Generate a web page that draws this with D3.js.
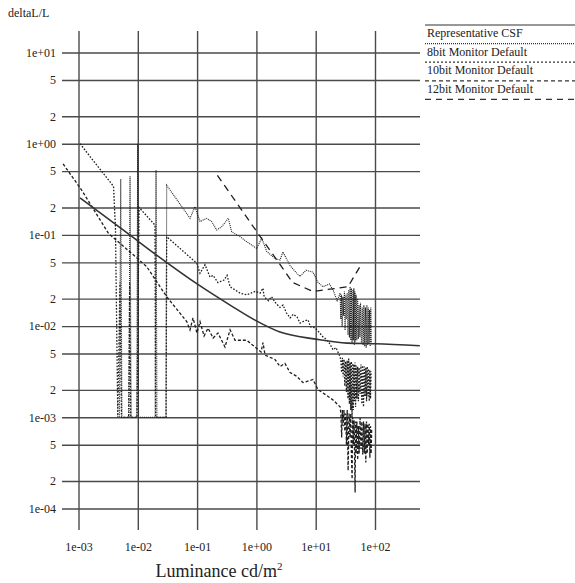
<!DOCTYPE html>
<html>
<head>
<style>
  body { margin: 0; background: #fff; }
  text { font-family: "Liberation Serif", "Times New Roman", serif; fill: #222; }
</style>
</head>
<body>
<script src="https://d3js.org/d3.v7.min.js"></script>
<script>
// luminance (cd/m2), deltaL/L
const csf = [[0.00106,0.254],[0.0066,0.105],[0.024,0.056],[0.1,0.029],[0.36,0.017],[1,0.0114],[2.5,0.0086],[10,0.0072],[34,0.0065],[100,0.0064],[570,0.0061]]

const bit8 = [[0.0049,0.001],[0.00515,0.41],[0.0054,0.001],[0.0071,0.001],[0.0074,0.44],[0.0077,0.001],[0.0096,0.001],[0.00995,1.0],[0.0103,0.001],
  [0.0196,0.001],[0.0203,0.51],[0.021,0.001],[0.0299,0.001],[0.0307,0.35],
  [0.076,0.152],[0.092,0.204],[0.112,0.14],[0.145,0.152],[0.176,0.14],[0.214,0.113],[0.26,0.123],[0.336,0.152],[0.383,0.108],[0.53,0.0955],
  [0.69,0.084],[1.01,0.071],[1.23,0.092],[1.49,0.066],[2.06,0.055],[2.5,0.053],[2.8,0.065],[3.7,0.046],[5.4,0.035],[6.9,0.041],[9.0,0.039],
  [11,0.03],[13.3,0.027],[17,0.029],[19.6,0.025],[23,0.019],
  [25.8,0.023],[26.5,0.012],[27.2,0.022],[27.9,0.0098],[28.8,0.021],[29.6,0.013],[30.5,0.024],[31.3,0.009],[32.2,0.022],[33,0.012],[34,0.023],
  [35,0.008],[36,0.025],[37,0.0075],[38,0.027],[39,0.007],[40,0.026],[41,0.0065],[42,0.025],[43,0.007],[44,0.026],[45,0.0062],[46,0.024],
  [47,0.0068],[48,0.022],[49.5,0.007],[51,0.02],[52.5,0.0072],[54,0.017],[55.5,0.0076],[57,0.018],[59,0.0065],[61,0.016],[63,0.0062],
  [65,0.017],[67,0.006],[69,0.016],[71,0.0058],[73,0.017],[75,0.0062],[77,0.016],[79,0.0065],[81,0.015],[83,0.006],[85,0.016],[87,0.0062]]

const bit10 = [[0.00106,1.0],[0.0039,0.34],[0.0042,0.12],[0.0046,0.001],[0.005,0.03],[0.0053,0.001],[0.007,0.001],[0.0073,0.03],[0.0076,0.001],
  [0.0097,0.001],[0.0105,0.2],[0.0195,0.128],[0.02,0.001],[0.03,0.001],[0.0307,0.0955],[0.0985,0.049],[0.112,0.038],[0.136,0.047],[0.165,0.0345],
  [0.186,0.036],[0.225,0.03],[0.284,0.032],[0.32,0.036],[0.36,0.027],[0.53,0.023],[0.69,0.022],[0.95,0.024],[1.15,0.023],[1.29,0.026],[1.35,0.021],
  [1.6,0.019],[1.8,0.021],[2.1,0.018],[2.5,0.016],[2.81,0.017],[3.2,0.014],[3.7,0.0123],[4.2,0.0135],[4.84,0.0126],[5.44,0.0108],[6.3,0.0113],
  [7.4,0.0117],[8.2,0.0098],[9.0,0.0098],[10,0.0094],[11.5,0.0085],[13.3,0.0076],[15,0.0072],[17,0.0065],[19.6,0.0055],[22,0.0058],[25.8,0.0046],
  [26.6,0.0041],[27.4,0.0031],[28.2,0.0045],[29,0.0028],[30,0.0043],[31,0.0022],[32,0.0041],[33,0.0019],[34,0.0042],[35,0.0016],[36,0.0044],
  [37,0.0014],[38,0.004],[39,0.0012],[40,0.0041],[41,0.00101],[42,0.0039],[43,0.0012],[44,0.0038],[45,0.0015],[46,0.004],[47,0.0013],
  [48,0.0037],[49.5,0.0016],[51,0.0036],[52.5,0.0015],[54,0.0035],[56,0.0018],[58,0.0038],[60,0.0014],[62,0.0037],[64,0.0013],[66,0.0036],
  [68,0.0017],[70,0.0035],[72,0.0015],[74,0.0036],[76,0.0017],[78,0.0034],[80,0.0015],[82,0.0033],[84,0.0016],[86,0.0032]]

const bit12 = [[0.00055,0.6],[0.00113,0.31],[0.0032,0.104],[0.005,0.081],[0.0141,0.045],[0.0307,0.021],[0.0669,0.0112],[0.0759,0.0091],
  [0.0853,0.0123],[0.0995,0.0084],[0.112,0.0112],[0.131,0.0078],[0.153,0.0095],[0.186,0.0074],[0.225,0.0084],[0.295,0.0059],[0.36,0.0091],
  [0.436,0.007],[0.686,0.007],[0.946,0.0059],[1.2,0.0052],[1.29,0.0066],[1.4,0.0048],[2.06,0.0043],[2.5,0.0036],[3.03,0.0039],[3.69,0.0031],
  [4.84,0.0028],[6.1,0.0024],[9.0,0.0026],[11,0.002],[13.3,0.00185],[19.6,0.00155],[25.8,0.0013],
  [26.6,0.0011],[27.4,0.0006],[28.2,0.0012],[29,0.0008],[30,0.0012],[31,0.0007],[32,0.0011],[33,0.0005],[34,0.0012],[35.2,0.00026],
  [36.5,0.0011],[38,0.0006],[39,0.0011],[40,0.0004],[41.1,0.00021],[42,0.001],[43,0.0005],[44.4,0.00093],[46.2,0.00015],[47,0.0009],
  [48,0.0004],[49.5,0.0009],[51,0.00034],[52.5,0.0008],[54,0.0004],[56,0.00098],[58,0.00045],[60,0.0009],[62,0.00039],[64,0.0009],
  [66,0.0004],[68,0.00085],[70,0.00032],[72,0.0009],[74,0.0004],[76,0.00085],[78,0.0005],[80,0.00085],[82,0.00036],[84,0.0008],
  [86,0.0004],[88,0.00076]]

const extra = [[0.22,0.45],[1.0,0.11],[4.1,0.03],[9,0.024],[35,0.027],[56,0.045]]

const xTicks = [1e-3,1e-2,1e-1,1,10,100]
const xTickLabels = ["1e-03","1e-02","1e-01","1e+00","1e+01","1e+02"]
const yTicks = [10,5,2,1,0.5,0.2,0.1,0.05,0.02,0.01,0.005,0.002,0.001,0.0005,0.0002,0.0001]
const yTickLabels = ["1e+01","5","2","1e+00","5","2","1e-01","5","2","1e-02","5","2","1e-03","5","2","1e-04"]
const legendLabels = ["Representative CSF","8bit Monitor Default","10bit Monitor Default","12bit Monitor Default"]

const w = 575, h = 583
const gridLeft = 62, gridRight = 420, gridTop = 31, gridBottom = 530

const svg = d3.select("body").append("svg").attr("width", w).attr("height", h)

const x = d3.scaleLog().domain([1e-3, 1e2]).range([78.5, 375])
const y = d3.scaleLog().domain([10, 1e-4]).range([52.5, 508.5])

// grid via axes
svg.append("g").attr("transform", "translate(" + gridLeft + ",0)")
  .call(d3.axisLeft(y).tickValues(yTicks).tickSize(-(gridRight - gridLeft)).tickPadding(6)
    .tickFormat((d, i) => yTickLabels[i]))
svg.append("g").attr("transform", "translate(0," + gridBottom + ")")
  .call(d3.axisBottom(x).tickValues(xTicks).tickSize(-(gridBottom - gridTop)).tickPadding(12)
    .tickFormat((d, i) => xTickLabels[i]))
svg.selectAll(".domain").remove()
svg.selectAll(".tick line").attr("stroke", "#4a4a4a").attr("stroke-width", 1.4)
svg.selectAll(".tick text").attr("font-size", 12).attr("font-family", "Liberation Serif").attr("fill", "#222")

const line = d3.line().x(d => x(d[0])).y(d => y(d[1]))

const series = [
  {data: bit8, dash: "1,1", width: 1.1},
  {data: bit10, dash: "1.6,1.6", width: 1.3},
  {data: bit12, dash: "3,2", width: 1.3},
  {data: extra, dash: "7,5", width: 1.3}
]
series.forEach(s => {
  svg.append("path").datum(s.data).attr("d", line)
    .attr("fill", "none").attr("stroke", "#1e1e1e").attr("stroke-width", s.width)
    .attr("stroke-dasharray", s.dash)
})

svg.append("path").datum(csf)
  .attr("d", d3.line().x(d => x(d[0])).y(d => y(d[1])).curve(d3.curveMonotoneX))
  .attr("fill", "none").attr("stroke", "#333").attr("stroke-width", 1.6)

// legend
const legendDash = ["none", "1,1", "2,2", "4,3", "6,5"]
legendDash.forEach((dsh, i) => {
  svg.append("line").attr("x1", 425).attr("x2", 575)
    .attr("y1", 25 + 18.6 * i).attr("y2", 25 + 18.6 * i)
    .attr("stroke", "#333").attr("stroke-width", 1.2).attr("stroke-dasharray", dsh)
})
legendLabels.forEach((t, i) => {
  svg.append("text").attr("x", 427).attr("y", 37 + 18.6 * i).attr("font-size", 12).text(t)
})

svg.append("text").attr("x", 8).attr("y", 17).attr("font-size", 12).text("deltaL/L")

const xt = svg.append("text").attr("x", 219).attr("y", 577).attr("text-anchor", "middle").attr("font-size", 18)
xt.append("tspan").text("Luminance cd/m")
xt.append("tspan").attr("dy", -7).attr("font-size", 11).text("2")
</script>
</body>
</html>
